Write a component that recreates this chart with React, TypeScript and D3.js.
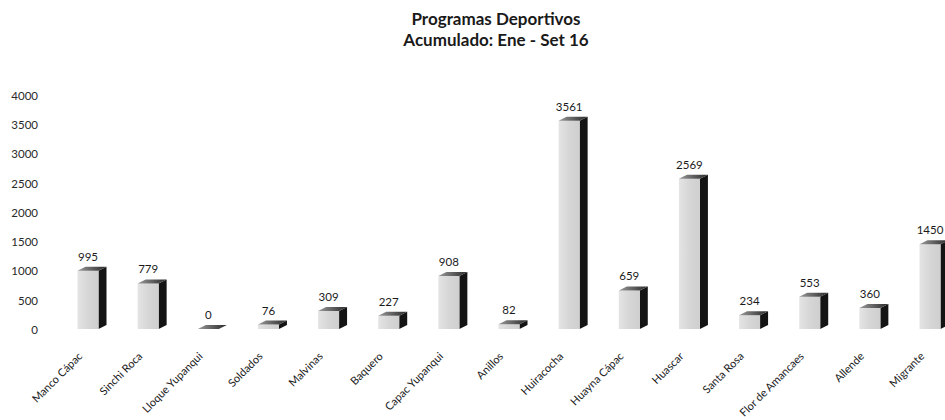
import React from "react";
import * as d3 from "d3";

const categories = [
  "Manco Cápac", "Sinchi Roca", "Lloque Yupanqui", "Soldados", "Malvinas",
  "Baquero", "Capac Yupanqui", "Anillos", "Huiracocha", "Huayna Cápac",
  "Huascar", "Santa Rosa", "Flor de Amancaes", "Allende", "Migrante",
];
const values = [995, 779, 0, 76, 309, 227, 908, 82, 3561, 659, 2569, 234, 553, 360, 1450];
const yTicks = [0, 500, 1000, 1500, 2000, 2500, 3000, 3500, 4000];
const titleLines = ["Programas Deportivos", "Acumulado: Ene - Set 16"];

const W = 945;
const H = 420;
const FONT = "Lato, 'Open Sans', sans-serif";

export default function App() {
  const x = d3.scalePoint<string>().domain(categories).range([88, 930]);
  const y = d3.scaleLinear().domain([0, 4000]).range([329, 95]);
  const fw = 21; // front width
  const dx = 8;
  const dy = -4;
  const y0 = y(0);

  return (
    <svg width={W} height={H} style={{ position: "absolute", left: 0, top: 0, background: "#fff" }}>
      <defs>
        <linearGradient id="front" x1="0" x2="1" y1="0" y2="0">
          <stop offset="0" stopColor="#e4e4e4" />
          <stop offset="0.5" stopColor="#d6d6d6" />
          <stop offset="1" stopColor="#cfcfcf" />
        </linearGradient>
        <linearGradient id="top" x1="0" x2="1" y1="0" y2="0">
          <stop offset="0" stopColor="#9a9a9a" />
          <stop offset="0.6" stopColor="#555" />
          <stop offset="1" stopColor="#2a2a2a" />
        </linearGradient>
      </defs>
      <rect x={0} y={0} width={W} height={H} fill="#fff" />
      <g fontFamily={FONT} fontWeight={700} fontSize={17} fill="#1a1a1a" textAnchor="middle">
        {titleLines.map((t, i) => (
          <text key={t} x={496} y={25 + i * 21}>{t}</text>
        ))}
      </g>
      <g fontFamily={FONT} fontSize={11.5} fill="#2a2a2a" textAnchor="end">
        {yTicks.map((t) => (
          <text key={t} x={38} y={y(t) + 2} dominantBaseline="middle">{t}</text>
        ))}
      </g>
      <g>
        {categories.map((c, i) => {
          const cx = x(c)!;
          const v = values[i];
          const yt = y(v);
          const xl = cx - fw / 2;
          const xr = cx + fw / 2;
          return (
            <g key={c}>
              {v > 0 && (
                <polygon
                  points={`${xr},${yt} ${xr + dx},${yt + dy} ${xr + dx},${y0 + dy} ${xr},${y0}`}
                  fill="#141414"
                />
              )}
              {v > 0 && <rect x={xl} y={yt} width={fw} height={y0 - yt} fill="url(#front)" />}
              <polygon
                points={`${xl},${yt} ${xr},${yt} ${xr + dx},${yt + dy} ${xl + dx},${yt + dy}`}
                fill="url(#top)"
              />
              <text
                x={cx}
                y={yt - 10}
                textAnchor="middle"
                fontFamily={FONT}
                fontSize={11.5}
                fill="#1a1a1a"
              >
                {v}
              </text>
              <text
                transform={`translate(${cx - 5},${357}) rotate(-45)`}
                textAnchor="end"
                fontFamily={FONT}
                fontSize={11}
                fill="#1a1a1a"
              >
                {c}
              </text>
            </g>
          );
        })}
      </g>
    </svg>
  );
}
